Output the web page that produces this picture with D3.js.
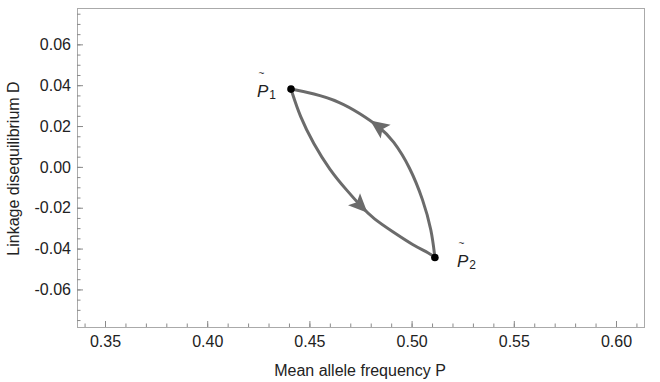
<!DOCTYPE html>
<html lang="en">
<head>
<meta charset="UTF-8">
<title>Linkage disequilibrium cycle</title>
<style>
  body { margin: 0; background: #fff; }
  svg { display: block; font-family: "Liberation Sans", Arial, sans-serif; }
  .tick text { fill: #222; font-size: 16px; }
  .tick line { stroke: #8a8a8a; }
</style>
</head>
<body>
<svg id="chart" width="660" height="382"></svg>
<script src="https://cdnjs.cloudflare.com/ajax/libs/d3/7.8.5/d3.min.js"></script>
<script>

// data
let xTicks = [0.35, 0.40, 0.45, 0.50, 0.55, 0.60];
let yTicks = [-0.06, -0.04, -0.02, 0.00, 0.02, 0.04, 0.06];

// equilibria
let eqPoints = [
  {name: "1", P: 0.4410, D: 0.0381},
  {name: "2", P: 0.5114, D: -0.0444}
];

// path P1 -> P2 (lower branch)
let lowerP = [0.4410, 0.4454, 0.4519, 0.4600, 0.4682, 0.4755, 0.4812, 0.4910, 0.5008, 0.5089, 0.5114];
let lowerD = [0.0381, 0.0245, 0.0115, -0.0016, -0.0114, -0.0196, -0.0253, -0.0319, -0.0384, -0.0424, -0.0444];

// path P2 -> P1 (upper branch)
let upperP = [0.5114, 0.5098, 0.5057, 0.4992, 0.4910, 0.4845, 0.4747, 0.4649, 0.4519, 0.4410];
let upperD = [-0.0444, -0.0310, -0.0163, 0.0000, 0.0131, 0.0195, 0.0262, 0.0319, 0.0360, 0.0381];

let margin = {top: 8, right: 16, bottom: 55, left: 77};
let width = 660, height = 382;

let svg = d3.select("#chart");

let x = d3.scaleLinear()
  .domain([0.3363, 0.6137])
  .range([margin.left, width - margin.right]);

let y = d3.scaleLinear()
  .domain([-0.0784, 0.0778])
  .range([height - margin.bottom, margin.top]);

// frame
svg.append("rect")
  .attr("x", margin.left + 0.5)
  .attr("y", margin.top + 0.5)
  .attr("width", width - margin.right - margin.left)
  .attr("height", height - margin.bottom - margin.top)
  .attr("fill", "none")
  .attr("stroke", "#aaa")
  .attr("stroke-width", 1);

// minor ticks
let xMinor = d3.range(34, 62).map(d => d / 100);
let yMinor = d3.range(-15, 16).map(d => d / 200);

svg.append("g")
  .attr("transform", `translate(0,${height - margin.bottom})`)
  .call(d3.axisBottom(x).tickValues(xMinor).tickSize(-3.5).tickFormat(""))
  .call(g => g.select(".domain").remove());

svg.append("g")
  .attr("transform", `translate(${margin.left},0)`)
  .call(d3.axisLeft(y).tickValues(yMinor).tickSize(-3.5).tickFormat(""))
  .call(g => g.select(".domain").remove());

// major ticks
svg.append("g")
  .attr("transform", `translate(0,${height - margin.bottom})`)
  .call(d3.axisBottom(x).tickValues(xTicks).tickSize(-6).tickPadding(9).tickFormat(d => d.toFixed(2)))
  .call(g => g.select(".domain").remove());

svg.append("g")
  .attr("transform", `translate(${margin.left},0)`)
  .call(d3.axisLeft(y).tickValues(yTicks).tickSize(-6).tickPadding(6).tickFormat(d => d.toFixed(2)))
  .call(g => g.select(".domain").remove());

svg.selectAll(".tick text").attr("font-family", null).attr("font-size", null);

// axis titles
svg.append("text")
  .attr("x", (margin.left + width - margin.right) / 2 - 0.5)
  .attr("y", 376)
  .attr("text-anchor", "middle")
  .attr("fill", "#222")
  .style("font-size", "16px")
  .text("Mean allele frequency P");

svg.append("text")
  .attr("transform", `translate(19,${(margin.top + height - margin.bottom) / 2 + 1}) rotate(-90)`)
  .attr("text-anchor", "middle")
  .attr("fill", "#222")
  .style("font-size", "16px")
  .text("Linkage disequilibrium D");

// trajectories
let line = d3.line()
  .x(d => x(d[0]))
  .y(d => y(d[1]))
  .curve(d3.curveBasis);

let branches = [
  d3.zip(lowerP, lowerD),
  d3.zip(upperP, upperD)
];

let curveColor = "#6b6b6b";

branches.forEach(pts => {
  let path = svg.append("path")
    .attr("d", line(pts))
    .attr("fill", "none")
    .attr("stroke", curveColor)
    .attr("stroke-width", 3)
    .attr("stroke-linecap", "round");

  // arrowhead along the direction of travel
  let node = path.node();
  let L = node.getTotalLength();
  let at = L * 0.64;
  let tip = node.getPointAtLength(at);
  let back = node.getPointAtLength(at - 3);
  let ang = Math.atan2(tip.y - back.y, tip.x - back.x) * 180 / Math.PI;

  svg.append("path")
    .attr("d", "M1,0 L-18,-8.5 L-14,0 L-18,8.5 Z")
    .attr("fill", curveColor)
    .attr("transform", `translate(${tip.x},${tip.y}) rotate(${ang})`);
});

// equilibrium points and labels
let labelOffset = {"1": [-34, 8], "2": [22, 9.5]};

eqPoints.forEach(p => {
  let cx = x(p.P), cy = y(p.D);
  svg.append("circle")
    .attr("cx", cx)
    .attr("cy", cy)
    .attr("r", 3.8)
    .attr("fill", "#000");

  let off = labelOffset[p.name];
  let lbl = svg.append("text")
    .attr("x", cx + off[0])
    .attr("y", cy + off[1])
    .attr("fill", "#222")
    .style("font-size", "17px");
  lbl.append("tspan")
    .style("font-style", "italic")
    .text("P");
  lbl.append("tspan")
    .attr("dy", 2)
    .attr("dx", 1)
    .style("font-size", "12px")
    .text(p.name);

  svg.append("text")
    .attr("x", cx + off[0] + 4.5)
    .attr("y", cy + off[1] - 20)
    .attr("text-anchor", "middle")
    .attr("fill", "#333")
    .style("font-size", "10px")
    .text("~");
});

</script>
</body>
</html>
